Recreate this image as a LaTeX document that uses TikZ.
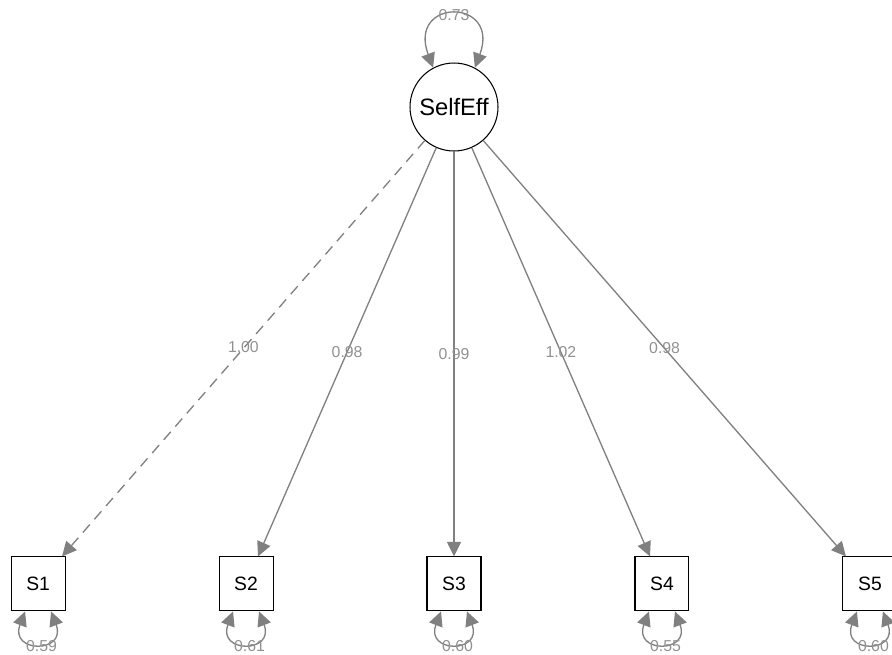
\documentclass[tikz,border=0pt]{standalone}
\usepackage{fontspec}
\setmainfont{Liberation Sans}
\usetikzlibrary{arrows.meta,positioning}

\definecolor{pathgray}{RGB}{128,128,128}
\definecolor{estgray}{RGB}{145,145,145}

\begin{document}
\begin{tikzpicture}[x=0.02cm,y=-0.02cm,node distance=4.16cm,on grid,
  latent/.style={circle,draw,line width=0.6pt,minimum size=1.76cm,inner sep=0pt,
    font=\fontsize{13.5}{15}\selectfont},
  manifest/.style={rectangle,draw,line width=0.6pt,minimum size=1.08cm,inner sep=0pt,
    font=\fontsize{11}{13}\selectfont},
  load/.style={draw=pathgray,line width=0.75pt,-{Triangle[length=0.29cm,width=0.28cm]}},
  resid/.style={draw=pathgray,line width=0.75pt,
    {Triangle[length=0.29cm,width=0.28cm]}-{Triangle[length=0.29cm,width=0.28cm]}},
  est/.style={text=estgray,inner sep=0pt,font=\fontsize{9}{10}\selectfont}]
  \useasboundingbox (0,0) rectangle (892,654);

  % latent factor and its five indicators
  \node[latent] (selfeff) at (454,107) {SelfEff};
  \node[manifest] (s3) [below=9.54cm of selfeff] {S3};
  \node[manifest] (s2) [left=of s3] {S2};
  \node[manifest] (s1) [left=of s2] {S1};
  \node[manifest] (s4) [right=of s3] {S4};
  \node[manifest] (s5) [right=of s4] {S5};

  % factor loadings
  \path
    (selfeff) edge[load,dash pattern=on 6pt off 4pt] node[est] {1,00} (s1)
    (selfeff) edge[load] node[est] {0.98} (s2)
    (selfeff) edge[load] node[est] {0.99} (s3)
    (selfeff) edge[load] node[est] {1.02} (s4)
    (selfeff) edge[load] node[est] {0.98} (s5);

  % variances
  \draw[resid] (selfeff.118) .. controls +(-26,-70) and +(26,-70) .. (selfeff.62)
    node[est,pos=0.5] {0.73};
  \foreach \ind/\val in {s1/0.59,s2/0.61,s3/0.60,s4/0.55,s5/0.60}
    \draw[resid] ([xshift=-0.26cm]\ind.south) .. controls +(-16,42) and +(16,42) ..
      ([xshift=0.26cm]\ind.south) node[est,pos=0.5,yshift=-2pt,xshift=2pt] {\val};
\end{tikzpicture}
\end{document}
